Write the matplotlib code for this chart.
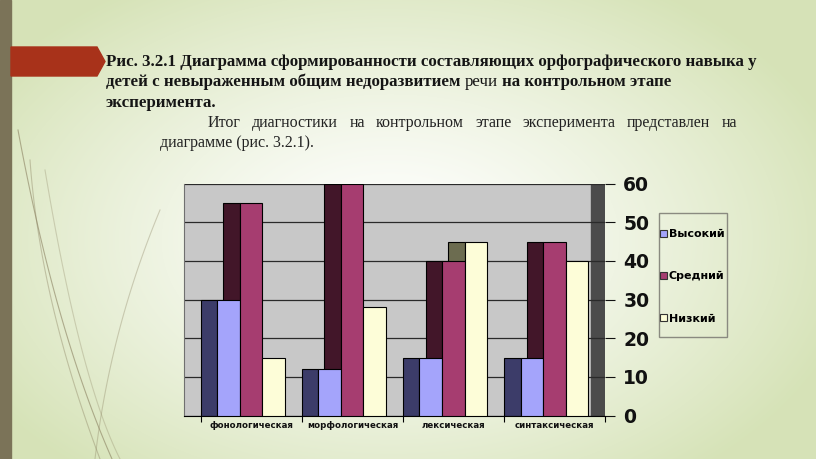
import numpy as np
import matplotlib
matplotlib.use('Agg')
import matplotlib.pyplot as plt
from matplotlib.patches import Polygon, Rectangle, Patch

# chart data
categories = ['фонологическая', 'морфологическая', 'лексическая', 'синтаксическая']
series = ['Высокий', 'Средний', 'Низкий']
high = [30, 12, 15, 15]
mid = [55, 60, 40, 45]
low = [15, 28, 45, 40]
yticks = [0, 10, 20, 30, 40, 50, 60]

front_colors = ['#a4a4fb', '#a63d70', '#fdfdd8']
side_colors = ['#3c3c69', '#421629', '#6c6c50']

W, H = 816, 459
fig = plt.figure(figsize=(W / 100, H / 100), dpi=100)
renderer = fig.canvas.get_renderer()

# slide background
bg = fig.add_axes([0, 0, 1, 1])
bg.set_xlim(0, W)
bg.set_ylim(H, 0)
bg.axis('off')
yy, xx = np.mgrid[0:H, 0:W]
t = np.sqrt(((xx - 390) / 470.0) ** 2 + ((yy - 240) / 300.0) ** 2)
t = np.clip(t, 0, 1) ** 1.3
white = np.array([1.0, 1.0, 1.0])
green = np.array([0.84, 0.89, 0.72])
img = white * (1 - t[..., None]) + green * t[..., None]
bg.imshow(img, extent=[0, W, H, 0], aspect='auto', zorder=0)

# decorative thin curves
s = np.linspace(0, 1, 100)
for p0, p1, p2, a in [((112, 459), (55, 330), (18, 130), 0.6),
                      ((100, 459), (40, 300), (30, 160), 0.4),
                      ((95, 459), (110, 330), (160, 210), 0.35),
                      ((120, 459), (80, 380), (45, 170), 0.3)]:
    cx = (1 - s) ** 2 * p0[0] + 2 * s * (1 - s) * p1[0] + s ** 2 * p2[0]
    cy = (1 - s) ** 2 * p0[1] + 2 * s * (1 - s) * p1[1] + s ** 2 * p2[1]
    bg.plot(cx, cy, color='#8a8060', lw=0.8, alpha=a, zorder=1)

bg.add_patch(Rectangle((0, 0), 11, H, color='#7b7358', zorder=2))
bg.add_patch(Polygon([(11, 47), (97, 47), (105, 61.5), (97, 76), (11, 76)],
                     closed=True, color='#a8321a', zorder=2))


def text_w(s, **kw):
    tt = bg.text(0, 0, s, **kw)
    w = tt.get_window_extent(renderer).width
    tt.remove()
    return w


# title
tkw = dict(fontsize=12.2, family='Liberation Serif', color='#151515', va='baseline', zorder=3)
bg.text(106, 66, 'Рис. 3.2.1 Диаграмма сформированности составляющих орфографического навыка у',
        fontweight='bold', **tkw)
sp = text_w('a a', fontweight='bold', **tkw) - text_w('aa', fontweight='bold', **tkw)
x0 = 106
for part, wt in [('детей с невыраженным общим недоразвитием', 'bold'),
                 ('речи', 'normal'),
                 ('на контрольном этапе', 'bold')]:
    bg.text(x0, 86.5, part, fontweight=wt, **tkw)
    x0 += text_w(part, fontweight=wt, **tkw) + sp
bg.text(106, 107, 'эксперимента.', fontweight='bold', **tkw)

# justified paragraph
pkw = dict(fontsize=11.5, family='Liberation Serif', color='#222222', va='baseline', zorder=3)
words = 'Итог диагностики на контрольном этапе эксперимента представлен на'.split()
widths = [text_w(wd, **pkw) for wd in words]
gap = (737 - 208 - sum(widths)) / (len(words) - 1)
x0 = 208
for wd, wdt in zip(words, widths):
    bg.text(x0, 127, wd, **pkw)
    x0 += wdt + gap
bg.text(160, 147, 'диаграмме (рис. 3.2.1).', **pkw)

# chart
ax = fig.add_axes([184 / W, 1 - 415.5 / H, (605.3 - 184) / W, (415.5 - 183.5) / H])
ax.set_facecolor('#c8c8c8')
ax.set_axisbelow(True)
d, w = 0.163, 0.223
x = np.arange(len(categories))
data = [high, mid, low]
for j, vals in enumerate(data):
    ax.bar(x + j * w, vals, width=d, align='edge', color=side_colors[j],
           edgecolor='black', linewidth=0.8, zorder=2)
for j, vals in enumerate(data):
    ax.bar(x + d + j * w, vals, width=w, align='edge', color=front_colors[j],
           edgecolor='black', linewidth=0.8, zorder=3)
ax.axvspan(3.855, 4.0, color='#4b4b4b', zorder=0.3)

ax.set_xlim(-0.165, 4.0)
ax.set_ylim(0, 60)
ax.set_yticks(yticks)
ax.yaxis.tick_right()
ax.grid(axis='y', color='#2a2a2a', lw=0.9)
ax.tick_params(axis='y', length=7, width=0.8, pad=6, labelsize=13.5, colors='#111111')
for lb in ax.get_yticklabels():
    lb.set_fontweight('bold')
ax.set_xticks(range(len(categories) + 1))
ax.set_xticklabels([])
ax.set_xticks(x + 0.5, minor=True)
ax.set_xticklabels(categories, minor=True, fontsize=6.2, fontweight='bold', color='#111111')
ax.tick_params(axis='x', which='major', length=4, width=0.8)
ax.tick_params(axis='x', which='minor', length=0, pad=4)
for side in ['top', 'right']:
    ax.spines[side].set_visible(False)
ax.spines['left'].set_color('#707070')
ax.spines['left'].set_linewidth(0.8)
ax.spines['bottom'].set_color('black')

# legend
bg.add_patch(Rectangle((659, 213), 68, 124, fill=False, edgecolor='#8a8a80', lw=1, zorder=3))
handles = [Patch(facecolor=front_colors[j], edgecolor='#333333', lw=0.8) for j in range(3)]
fig.legend(handles, series, loc='upper left', bbox_to_anchor=(660 / W, 1 - 229 / H),
           frameon=False, prop={'size': 8, 'weight': 'bold'}, handlelength=0.6,
           handleheight=0.6, handletextpad=0.2, labelspacing=2.9, borderpad=0,
           borderaxespad=0)

fig.savefig('out.png', dpi=100)
